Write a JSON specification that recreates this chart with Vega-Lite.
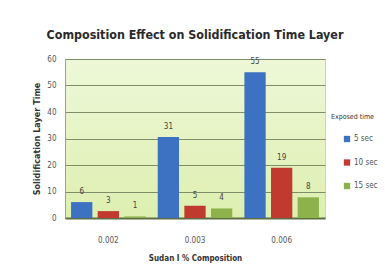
{
  "$schema": "https://vega.github.io/schema/vega-lite/v6.json",
  "autosize": {"type": "none"},
  "padding": {"left": 65, "top": 59, "right": 60, "bottom": 55},
  "width": 260,
  "height": 159,
  "background": "white",
  "title": {
    "text": "Composition Effect on Solidification Time Layer",
    "font": "DejaVu Sans Condensed",
    "fontSize": 12.4,
    "fontWeight": "bold",
    "color": "#2a2a2a",
    "anchor": "middle",
    "offset": 14
  },
  "data": {
    "values": [
      {"comp": "0.002", "time": "5 sec", "value": 6},
      {"comp": "0.002", "time": "10 sec", "value": 2.6},
      {"comp": "0.002", "time": "15 sec", "value": 0.6},
      {"comp": "0.003", "time": "5 sec", "value": 30.6},
      {"comp": "0.003", "time": "10 sec", "value": 4.6},
      {"comp": "0.003", "time": "15 sec", "value": 3.6},
      {"comp": "0.006", "time": "5 sec", "value": 55},
      {"comp": "0.006", "time": "10 sec", "value": 19},
      {"comp": "0.006", "time": "15 sec", "value": 7.8}
    ]
  },
  "encoding": {
    "x": {
      "field": "comp", "type": "nominal",
      "scale": {"paddingInner": 0.14, "paddingOuter": 0.07},
      "axis": {
        "title": "Sudan I % Composition",
        "labelAngle": 0, "labelFont": "DejaVu Sans Condensed", "labelFontSize": 8, "labelColor": "#555555",
        "labelPadding": 18, "ticks": false, "domainColor": "#5d6e42", "domainWidth": 2,
        "titleFont": "DejaVu Sans Condensed", "titleFontSize": 8, "titleFontWeight": "bold", "titleColor": "#333333", "titlePadding": 10
      }
    },
    "xOffset": {"field": "time", "type": "nominal", "sort": ["5 sec", "10 sec", "15 sec"], "scale": {"paddingInner": 0.2}},
    "y": {
      "field": "value", "type": "quantitative",
      "scale": {"domain": [0, 60]},
      "axis": {
        "title": "Solidification  Layer Time", "values": [0, 10, 20, 30, 40, 50, 60], "labelOverlap": false,
        "labelFont": "DejaVu Sans Condensed", "labelFontSize": 8, "labelColor": "#555555", "labelPadding": 9, "ticks": false,
        "domainColor": "#9aa28a", "domainWidth": 1,
        "gridColor": "#7e8e68", "gridWidth": 1,
        "titleFont": "DejaVu Sans Condensed", "titleFontSize": 9, "titleFontWeight": "bold", "titleColor": "#333333", "titlePadding": 5
      }
    },
    "color": {
      "field": "time", "type": "nominal", "sort": ["5 sec", "10 sec", "15 sec"],
      "scale": {"domain": ["5 sec", "10 sec", "15 sec"], "range": ["#3d71c2", "#c03a30", "#8db14b"]},
      "legend": {
        "title": "Exposed time", "orient": "none", "legendX": 266, "legendY": 54,
        "titleFont": "DejaVu Sans Condensed", "titleFontSize": 7, "titleFontWeight": "normal", "titleColor": "#333333", "titlePadding": 15,
        "labelFont": "DejaVu Sans Condensed", "labelFontSize": 8, "labelColor": "#555555",
        "symbolType": "square", "symbolSize": 40, "symbolStrokeWidth": 0, "symbolOffset": 12, "rowPadding": 15.5, "labelOffset": 3, "padding": 0
      }
    }
  },
  "layer": [
    {"mark": {"type": "bar"}},
    {
      "mark": {"type": "text", "dy": -10, "font": "DejaVu Sans Condensed", "fontSize": 8, "color": "#444444"},
      "encoding": {"text": {"field": "value", "format": ".0f"}, "color": {"value": "#444444"}}
    }
  ],
  "config": {
    "view": {
      "stroke": "#c8dca0",
      "fill": {"gradient": "linear", "x1": 0, "y1": 0, "x2": 0, "y2": 1, "stops": [{"offset": 0, "color": "#eef8d8"}, {"offset": 1, "color": "#ddefb0"}]}
    }
  }
}
